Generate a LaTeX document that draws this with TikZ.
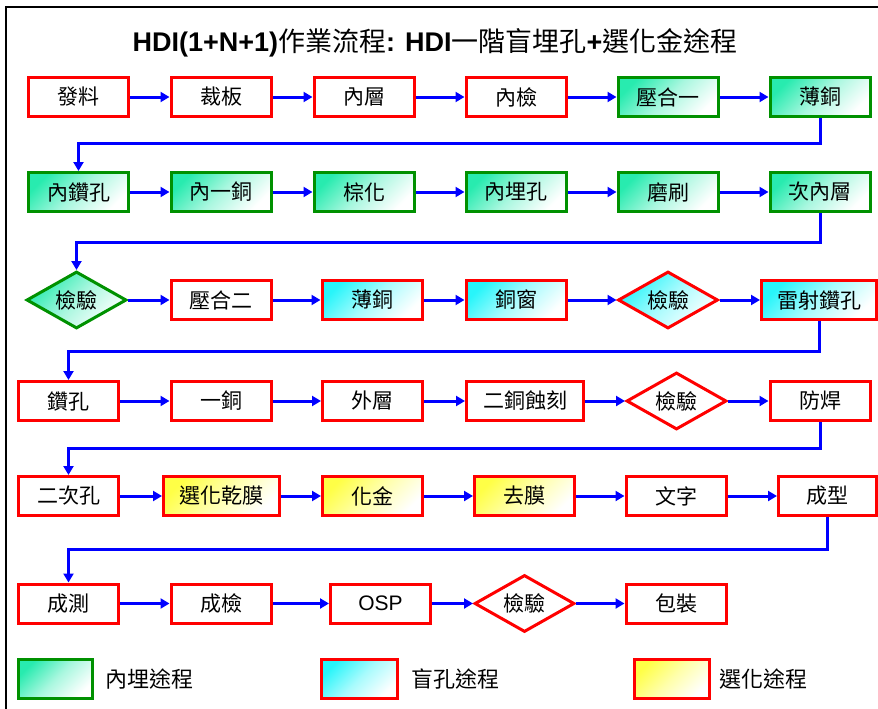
\documentclass[tikz,border=0pt]{standalone}
\usepackage{fontspec}
\setmainfont{Noto Sans CJK TC}
\newfontfamily\latfont{Liberation Sans}
\usetikzlibrary{shapes.geometric,arrows.meta}
\definecolor{bred}{RGB}{255,0,0}
\definecolor{bgreen}{RGB}{0,145,0}
\definecolor{fgreen}{RGB}{40,235,175}
\definecolor{fcyan}{RGB}{40,245,250}
\definecolor{fyellow}{RGB}{255,255,70}
\definecolor{ablue}{RGB}{0,0,255}
\tikzset{
  stepbox/.style={rectangle, draw=bred, line width=3pt, fill=white, minimum width=100pt, minimum height=39pt, inner sep=0pt, font=\fontsize{21}{24}\selectfont},
  chk/.style={diamond, aspect=1.7, draw=bred, line width=3pt, fill=white, minimum width=100pt, minimum height=57pt, inner sep=0pt, font=\fontsize{21}{24}\selectfont},
  gshade/.style={draw=bgreen, top color=fgreen, bottom color=white, middle color=fgreen!40, shading angle=45},
  cshade/.style={top color=fcyan, bottom color=white, middle color=fcyan!40, shading angle=45},
  yshade/.style={top color=fyellow, bottom color=white, middle color=fyellow!45, shading angle=45},
  arr/.style={draw=ablue, line width=3pt, -{Triangle[length=9pt,width=10pt]}},
  legtext/.style={anchor=west, inner sep=0pt, font=\fontsize{22}{24}\selectfont}
}
\begin{document}
\begin{tikzpicture}[x=1pt,y=-1pt]
\path[use as bounding box] (0,0) rectangle (878,709);
\clip (0,0) rectangle (878,709);
\fill[white] (0,0) rectangle (878,709);
\draw[black, line width=2pt] (6,740) -- (6,7) -- (900,7);

% title
\node (title) at (435,43) {\fontsize{27}{30}\selectfont{\latfont\bfseries HDI(1+N+1)}作業流程{\latfont\bfseries : HDI}一階盲埋孔{\latfont\bfseries +}選化金途程};

% row 1
\node[stepbox] (a1) at (78.5,97) {發料};
\node[stepbox] (a2) at (221,97) {裁板};
\node[stepbox] (a3) at (364,97) {內層};
\node[stepbox] (a4) at (516,97) {內檢};
\node[stepbox,gshade] (a5) at (668,97) {壓合一};
\node[stepbox,gshade] (a6) at (820,97) {薄銅};
% row 2
\node[stepbox,gshade] (b1) at (78.5,192) {內鑽孔};
\node[stepbox,gshade] (b2) at (221,192) {內一銅};
\node[stepbox,gshade] (b3) at (364,192) {棕化};
\node[stepbox,gshade] (b4) at (516,192) {內埋孔};
\node[stepbox,gshade] (b5) at (668,192) {磨刷};
\node[stepbox,gshade] (b6) at (820,192) {次內層};
% row 3
\node[chk,gshade] (c1) at (76.5,300) {檢驗};
\node[stepbox] (c2) at (221,300) {壓合二};
\node[stepbox,cshade] (c3) at (372,300) {薄銅};
\node[stepbox,cshade] (c4) at (516,300) {銅窗};
\node[chk,cshade] (c5) at (668,300) {檢驗};
\node[stepbox,cshade,minimum width=115pt] (c6) at (819,300) {雷射鑽孔};
% row 4
\node[stepbox] (d1) at (68.5,401) {鑽孔};
\node[stepbox] (d2) at (221,401) {一銅};
\node[stepbox] (d3) at (372.5,401) {外層};
\node[stepbox,minimum width=117pt] (d4) at (525,401) {二銅蝕刻};
\node[chk] (d5) at (676.5,401) {檢驗};
\node[stepbox] (d6) at (820,401) {防焊};
% row 5
\node[stepbox] (e1) at (68.5,496) {二次孔};
\node[stepbox,yshade,minimum width=116pt] (e2) at (221.5,496) {選化乾膜};
\node[stepbox,yshade] (e3) at (372.5,496) {化金};
\node[stepbox,yshade] (e4) at (524.5,496) {去膜};
\node[stepbox] (e5) at (676,496) {文字};
\node[stepbox,minimum width=98pt] (e6) at (827.5,496) {成型};
% row 6
\node[stepbox] (f1) at (68.5,603.5) {成測};
\node[stepbox] (f2) at (221,603.5) {成檢};
\node[stepbox,font=\fontsize{21}{24}\selectfont\latfont] (f3) at (380.5,603.5) {OSP};
\node[chk] (f4) at (524.5,603.5) {檢驗};
\node[stepbox] (f5) at (676,603.5) {包裝};

% horizontal arrows
\foreach \r in {a,b,c,d,e}{
  \foreach \i/\j in {1/2,2/3,3/4,4/5,5/6}{
    \draw[arr] (\r\i.east) -- (\r\j.west);
  }
}
\foreach \i/\j in {1/2,2/3,3/4,4/5}{
  \draw[arr] (f\i.east) -- (f\j.west);
}

% elbow connectors
\coordinate (h1) at (0,143);
\coordinate (h2) at (0,242);
\coordinate (h3) at (0,351);
\coordinate (h4) at (0,448);
\coordinate (h5) at (0,549);
\draw[arr] (a6.south) -- (a6.south |- h1) -| (b1.north);
\draw[arr] (b6.south) -- (b6.south |- h2) -| (c1.north);
\draw[arr] (c6.south) -- (c6.south |- h3) -| (d1.north);
\draw[arr] (d6.south) -- (d6.south |- h4) -| (e1.north);
\draw[arr] (e6.south) -- (e6.south |- h5) -| (f1.north);

% legend
\node[stepbox,gshade,minimum width=74pt,minimum height=39pt] (l1) at (55.5,679) {};
\node[legtext] (l1t) at (105,679) {內埋途程};
\node[stepbox,cshade,minimum width=76pt,minimum height=39pt] (l2) at (359.5,679) {};
\node[legtext] (l2t) at (411,679) {盲孔途程};
\node[stepbox,yshade,minimum width=75pt,minimum height=39pt] (l3) at (672,679) {};
\node[legtext] (l3t) at (719,679) {選化途程};
\end{tikzpicture}
\end{document}
